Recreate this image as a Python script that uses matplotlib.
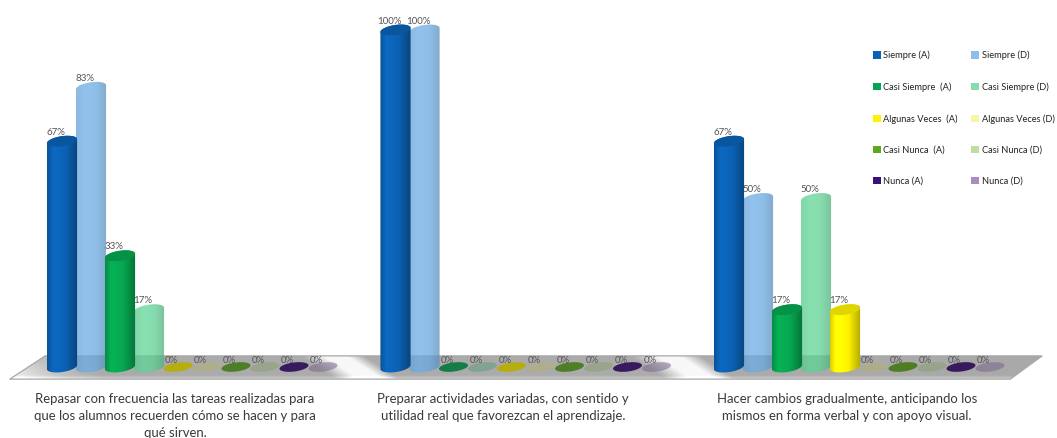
import matplotlib
matplotlib.use('Agg')
import matplotlib.pyplot as plt
import numpy as np
from matplotlib.patches import PathPatch, Patch
from matplotlib.path import Path
from matplotlib.colors import to_rgb

plt.rcParams['font.family'] = ['Lato', 'DejaVu Sans']

series = ['Siempre (A)', 'Siempre (D)', 'Casi Siempre  (A)', 'Casi Siempre (D)',
          'Algunas Veces  (A)', 'Algunas Veces (D)', 'Casi Nunca  (A)', 'Casi Nunca (D)',
          'Nunca (A)', 'Nunca (D)']
colors = ['#0b62b4', '#8fbfe8', '#06a650', '#86dcae', '#fff200',
          '#f6f6a6', '#5fa81e', '#bfdf9f', '#3d0f78', '#a98cc0']
is_dark = [True, False, True, False, True, False, True, False, True, False]

questions = ['Repasar con frecuencia las tareas realizadas para\nque los alumnos recuerden cómo se hacen y para\nqué sirven.',
             'Preparar actividades variadas, con sentido y\nutilidad real que favorezcan el aprendizaje.',
             'Hacer cambios gradualmente, anticipando los\nmismos en forma verbal y con apoyo visual.']
values = [[67, 83, 33, 17, 0, 0, 0, 0, 0, 0],
          [100, 100, 0, 0, 0, 0, 0, 0, 0, 0],
          [67, 50, 17, 50, 17, 0, 0, 0, 0, 0]]
group_start = [0, 11.5, 23]
label_x = [3.9, 15.2, 27.07]

fig = plt.figure(figsize=(10.57, 4.38), dpi=100)
ax = fig.add_axes([0, 0, 1, 1])
ax.set_xlim(-62 / 29, (1057 - 62) / 29)
ax.set_ylim(-71 / 3.37, 367 / 3.37)
ax.axis('off')

# floor: grey plane with slanted light streaks, clipped to a trapezoid
floor_x = [-1.8, -0.58, 33.8, 32.7]
floor_y = [-3.6, 3.3, 3.3, -3.6]
floor_stops = [-2.5, -0.5, 1, 8.8, 9.6, 10.4, 11, 20.2, 21.1, 21.9, 22.6, 34]
floor_grey = [0.97, 0.76, 0.67, 0.67, 0.97, 0.97, 0.67, 0.67, 0.97, 0.97, 0.67, 0.66]
gx, gy = np.meshgrid(np.linspace(-2.5, 34, 700), np.linspace(3.3, -3.6, 30))
grey = np.interp(gx + (gy + 0.15) * 0.18, floor_stops, floor_grey)
grey = grey + np.clip((-2.6 - gy) / 1.0, 0, 1) * 0.14
img = ax.imshow(grey, extent=(-2.5, 34, -3.6, 3.3), cmap='gray', vmin=0, vmax=1,
                aspect='auto', zorder=1)
floor = PathPatch(Path(np.c_[floor_x + floor_x[:1], floor_y + floor_y[:1]]),
                  fc='none', ec='#a8a8a8', lw=0.9, zorder=2)
ax.add_patch(floor)
img.set_clip_path(floor)


def disc(cx, v, w=0.52, h=1.5, tilt=0.6, start=0.0, stop=2 * np.pi):
    t = np.linspace(start, stop, 60)
    return cx + w * np.cos(t), v + h * np.sin(t) + tilt * np.cos(t)


def cylinder(cx, v, color, solid, z):
    c = np.array(to_rgb(color))
    a = 1.0 if solid else 0.75
    # the pale bars are see-through, so the floor darkens their lower end
    c = np.clip((c - (1 - a)) / a, 0, 1)
    xb, yb = disc(cx, 0, start=np.pi, stop=2 * np.pi)
    xt, yt = disc(cx, v, start=0, stop=np.pi)
    verts = np.r_[np.c_[xb, yb], np.c_[xt, yt], [[xb[0], yb[0]]]]
    if solid:
        shade = np.interp(np.linspace(0, 1, 40), [0, 0.2, 0.6, 1], [0.85, 1.08, 1.0, 0.7])
    else:
        shade = np.interp(np.linspace(0, 1, 40), [0, 0.3, 0.65, 1], [0.96, 1.03, 1.0, 0.84])
    rgb = np.clip(c[None, None, :] * shade[None, :, None], 0, 1)
    rgba = np.dstack([rgb, np.full(rgb.shape[:2], a)])
    body = ax.imshow(rgba, extent=(cx - 0.52, cx + 0.52, -3, v + 3), aspect='auto', zorder=z)
    outline = PathPatch(Path(verts), fc='none', ec='none', zorder=z)
    ax.add_patch(outline)
    body.set_clip_path(outline)
    if solid:
        xc, yc = disc(cx, v)
        ax.fill(xc, yc, color=c * 0.88, lw=0, zorder=z + 0.1)


for start, row, name, lx in zip(group_start, values, questions, label_x):
    for i, v in enumerate(row):
        cx = start + i
        if v > 0:
            cylinder(cx, v, colors[i], is_dark[i], 4 + i * 0.2 if is_dark[i] else 3 + i * 0.2)
        else:
            xd, yd = disc(cx, 0, w=0.5, h=1.35, tilt=0.5)
            c = np.array(to_rgb(colors[i]))
            ax.fill(xd, yd, color=c * 0.72, alpha=0.9 if is_dark[i] else 0.55, lw=0, zorder=3)
        ax.text(cx - 0.22, v + (1.3 if v > 0 else 0.7), '%d%%' % v, fontsize=7, color='#555555',
                ha='center', va='bottom', zorder=6)
    ax.text(lx, -7.6, name, fontsize=9.45, color='#3a3a3a', ha='center', va='top',
            linespacing=1.5, zorder=6)

# legend is filled by columns, so hand it the rows split in two
order = list(range(0, 10, 2)) + list(range(1, 10, 2))
handles = [Patch(fc=colors[i], ec='none') for i in order]
ax.legend(handles, [series[i] for i in order], ncol=2, loc='upper left',
          bbox_to_anchor=(868 / 1057, 1 - 46 / 438), frameon=False, fontsize=6.7,
          labelspacing=2.38, columnspacing=1.5, handlelength=0.85, handleheight=0.85,
          handletextpad=0.25, borderpad=0, labelcolor='#222222')

fig.savefig('out.png', dpi=100)
